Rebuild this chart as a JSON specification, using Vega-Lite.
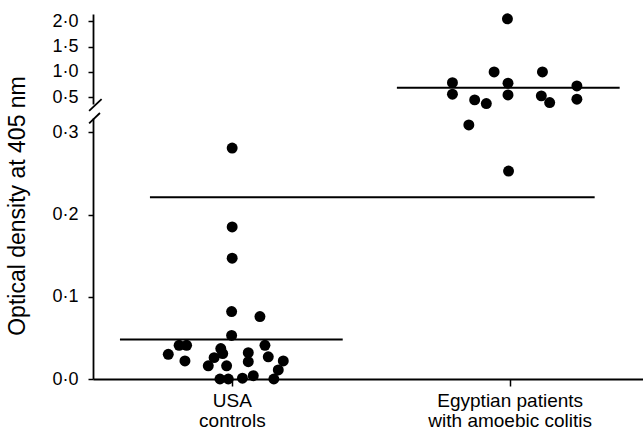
{
  "$schema": "https://vega.github.io/schema/vega-lite/v6.json",
  "background": "white",
  "padding": {"left": 5, "top": 12, "right": 0, "bottom": 0},
  "spacing": 14,
  "bounds": "flush",
  "config": {
    "view": {"stroke": null},
    "font": "Liberation Sans",
    "axis": {"domainColor": "black", "tickColor": "black", "labelColor": "black", "titleColor": "black", "grid": false, "domainWidth": 1.8, "tickWidth": 1.5, "labelOverlap": false}
  },
  "datasets": {
    "rows": [
      {"kind": "point", "group": "USA controls", "x": 0.999, "od": 0.082, "panel": "bottom"},
      {"kind": "point", "group": "USA controls", "x": 1.101, "od": 0.076, "panel": "bottom"},
      {"kind": "point", "group": "USA controls", "x": 0.999, "od": 0.053, "panel": "bottom"},
      {"kind": "point", "group": "USA controls", "x": 0.810, "od": 0.041, "panel": "bottom"},
      {"kind": "point", "group": "USA controls", "x": 0.837, "od": 0.041, "panel": "bottom"},
      {"kind": "point", "group": "USA controls", "x": 0.771, "od": 0.030, "panel": "bottom"},
      {"kind": "point", "group": "USA controls", "x": 0.831, "od": 0.022, "panel": "bottom"},
      {"kind": "point", "group": "USA controls", "x": 0.960, "od": 0.037, "panel": "bottom"},
      {"kind": "point", "group": "USA controls", "x": 0.967, "od": 0.031, "panel": "bottom"},
      {"kind": "point", "group": "USA controls", "x": 0.936, "od": 0.026, "panel": "bottom"},
      {"kind": "point", "group": "USA controls", "x": 0.915, "od": 0.016, "panel": "bottom"},
      {"kind": "point", "group": "USA controls", "x": 0.981, "od": 0.016, "panel": "bottom"},
      {"kind": "point", "group": "USA controls", "x": 0.957, "od": 0.000, "panel": "bottom"},
      {"kind": "point", "group": "USA controls", "x": 0.987, "od": 0.000, "panel": "bottom"},
      {"kind": "point", "group": "USA controls", "x": 1.059, "od": 0.032, "panel": "bottom"},
      {"kind": "point", "group": "USA controls", "x": 1.059, "od": 0.021, "panel": "bottom"},
      {"kind": "point", "group": "USA controls", "x": 1.119, "od": 0.041, "panel": "bottom"},
      {"kind": "point", "group": "USA controls", "x": 1.131, "od": 0.027, "panel": "bottom"},
      {"kind": "point", "group": "USA controls", "x": 1.185, "od": 0.022, "panel": "bottom"},
      {"kind": "point", "group": "USA controls", "x": 1.167, "od": 0.011, "panel": "bottom"},
      {"kind": "point", "group": "USA controls", "x": 1.151, "od": 0.000, "panel": "bottom"},
      {"kind": "point", "group": "USA controls", "x": 1.038, "od": 0.001, "panel": "bottom"},
      {"kind": "point", "group": "USA controls", "x": 1.077, "od": 0.004, "panel": "bottom"},
      {"kind": "point", "group": "USA controls", "x": 1.001, "od": 0.281, "panel": "bottom"},
      {"kind": "point", "group": "USA controls", "x": 1.001, "od": 0.185, "panel": "bottom"},
      {"kind": "point", "group": "USA controls", "x": 1.001, "od": 0.147, "panel": "bottom"},
      {"kind": "point", "group": "Egyptian patients", "x": 1.992, "od": 2.045, "panel": "top"},
      {"kind": "point", "group": "Egyptian patients", "x": 1.944, "od": 1.000, "panel": "top"},
      {"kind": "point", "group": "Egyptian patients", "x": 2.118, "od": 1.000, "panel": "top"},
      {"kind": "point", "group": "Egyptian patients", "x": 1.794, "od": 0.790, "panel": "top"},
      {"kind": "point", "group": "Egyptian patients", "x": 1.794, "od": 0.563, "panel": "top"},
      {"kind": "point", "group": "Egyptian patients", "x": 1.994, "od": 0.780, "panel": "top"},
      {"kind": "point", "group": "Egyptian patients", "x": 1.994, "od": 0.549, "panel": "top"},
      {"kind": "point", "group": "Egyptian patients", "x": 1.874, "od": 0.451, "panel": "top"},
      {"kind": "point", "group": "Egyptian patients", "x": 1.916, "od": 0.378, "panel": "top"},
      {"kind": "point", "group": "Egyptian patients", "x": 2.114, "od": 0.530, "panel": "top"},
      {"kind": "point", "group": "Egyptian patients", "x": 2.144, "od": 0.398, "panel": "top"},
      {"kind": "point", "group": "Egyptian patients", "x": 2.242, "od": 0.725, "panel": "top"},
      {"kind": "point", "group": "Egyptian patients", "x": 2.242, "od": 0.465, "panel": "top"},
      {"kind": "point", "group": "Egyptian patients", "x": 1.853, "od": 0.309, "panel": "bottom"},
      {"kind": "point", "group": "Egyptian patients", "x": 1.996, "od": 0.253, "panel": "bottom"},
      {"kind": "line", "group": "Egyptian mean", "x": 1.594, "x2": 2.396, "od": 0.69, "panel": "top"},
      {"kind": "line", "group": "USA mean", "x": 0.597, "x2": 1.399, "od": 0.048, "panel": "bottom"},
      {"kind": "line", "group": "cut-off", "x": 0.705, "x2": 2.306, "od": 0.221, "panel": "bottom"},
      {"kind": "break", "group": "axis break", "x": 0.486, "x2": 0.531, "od": 0.235, "od2": 0.465, "panel": "top"},
      {"kind": "break", "group": "axis break", "x": 0.486, "x2": 0.525, "od": 0.311, "od2": 0.3236, "panel": "bottom"}
    ]
  },
  "data": {"name": "rows"},
  "vconcat": [
    {
      "width": 550,
      "height": 90,
      "transform": [{"filter": "datum.panel == 'top'"}],
      "encoding": {
        "x": {"field": "x", "type": "quantitative", "scale": {"domain": [0.5, 2.48], "nice": false, "zero": false}, "axis": null},
        "y": {"field": "od", "type": "quantitative", "scale": {"domain": [0.37, 2.14], "nice": false, "zero": false},
          "axis": {"values": [0.5, 1.0, 1.5, 2.0], "title": null, "tickSize": 5, "labelPadding": 10, "labelFontSize": 18,
            "labelExpr": "replace(format(datum.value, '.1f'), '.', '·')"}}
      },
      "layer": [
        {
          "transform": [{"filter": "datum.kind == 'point'"}],
          "mark": {"type": "circle", "size": 120, "opacity": 1, "color": "black"}
        },
        {
          "transform": [{"filter": "datum.kind == 'line'"}],
          "mark": {"type": "rule", "strokeWidth": 2, "color": "black"},
          "encoding": {"x2": {"field": "x2"}}
        },
        {
          "transform": [{"filter": "datum.kind == 'break'"}],
          "mark": {"type": "rule", "strokeWidth": 1.8, "color": "black"},
          "encoding": {"x2": {"field": "x2"}, "y2": {"field": "od2"}}
        }
      ]
    },
    {
      "width": 550,
      "height": 261,
      "transform": [{"filter": "datum.panel == 'bottom'"}],
      "encoding": {
        "x": {"field": "x", "type": "quantitative", "scale": {"domain": [0.5, 2.48], "nice": false, "zero": false},
          "axis": {"values": [1, 2], "title": null, "tickSize": 7, "labelPadding": 5, "labelFontSize": 19, "labelLineHeight": 20,
            "labelExpr": "datum.value == 1 ? ['USA', 'controls'] : ['Egyptian patients', 'with amoebic colitis']"}},
        "y": {"field": "od", "type": "quantitative", "scale": {"domain": [0, 0.3175], "nice": false, "zero": false},
          "axis": {"values": [0, 0.1, 0.2, 0.3], "title": "Optical density at 405 nm", "titleFontSize": 23, "titleFontWeight": "normal",
            "titleX": -64, "titleY": 87.5, "tickSize": 5, "labelPadding": 10, "labelFontSize": 18,
            "labelExpr": "replace(format(datum.value, '.1f'), '.', '·')"}}
      },
      "layer": [
        {
          "transform": [{"filter": "datum.kind == 'point'"}],
          "mark": {"type": "circle", "size": 120, "opacity": 1, "color": "black"}
        },
        {
          "transform": [{"filter": "datum.kind == 'line'"}],
          "mark": {"type": "rule", "strokeWidth": 2, "color": "black"},
          "encoding": {"x2": {"field": "x2"}}
        },
        {
          "transform": [{"filter": "datum.kind == 'break'"}],
          "mark": {"type": "rule", "strokeWidth": 1.8, "color": "black"},
          "encoding": {"x2": {"field": "x2"}, "y2": {"field": "od2"}}
        }
      ]
    }
  ]
}
